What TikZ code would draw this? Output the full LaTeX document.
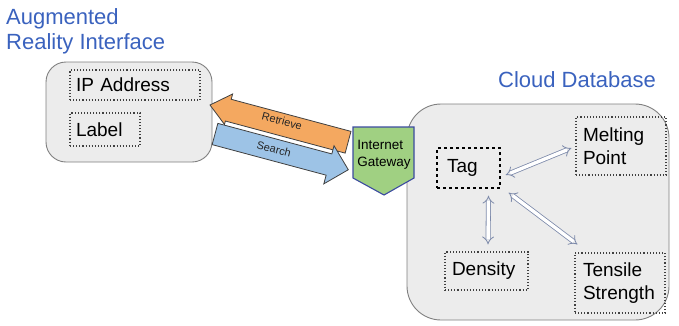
\documentclass[tikz,border=0pt]{standalone}
\usepackage{fontspec}
\setmainfont{Liberation Sans}
\usetikzlibrary{arrows.meta}
\definecolor{ttl}{RGB}{58,98,190}
\definecolor{boxfill}{RGB}{236,236,236}
\definecolor{boxline}{RGB}{128,128,128}
\definecolor{orangefill}{RGB}{244,168,96}
\definecolor{bluefill}{RGB}{157,195,230}
\definecolor{gwfill}{RGB}{160,208,130}
\definecolor{gwline}{RGB}{60,75,160}
\definecolor{dblline}{RGB}{125,138,170}
\definecolor{outl}{RGB}{64,64,64}
\newcommand\myfs[2]{\fontsize{#1}{#2}\selectfont}
\begin{document}
\begin{tikzpicture}[x=1pt,y=-1pt,
  bigbox/.style={draw=boxline, fill=boxfill, line width=0.9pt, inner sep=0pt},
  dotbox/.style={draw=outl, dotted, line width=1.1pt, inner ysep=0pt, align=left, font=\myfs{19}{23}},
  dashbox/.style={draw=black, dashed, line width=1.3pt, inner ysep=0pt, align=left, font=\myfs{19}{23}},
  titletext/.style={text=ttl, inner sep=0pt, align=left},
  arrowbody/.style={draw=outl, line width=0.8pt, line join=miter},
  dbl/.style={draw=dblline, double=white, double distance=3.4pt, line width=0.8pt, {Implies}-{Implies}},
  arrowlabel/.style={inner sep=0pt, font=\myfs{11}{13}, text=black!85, rotate=-15}
]
\useasboundingbox (0,0) rectangle (679,325);

% titles
\node[titletext, anchor=north west, font=\myfs{22}{25}] (arititle) at (6,8) {Augmented\\Reality Interface};
\node[titletext, anchor=base, font=\myfs{22}{25}] (cdbtitle) at (577,87) {Cloud Database};

% big boxes
\node[bigbox, rounded corners=20pt, minimum width=166pt, minimum height=100pt] (ari) at (129,112) {};
\node[bigbox, rounded corners=34pt, minimum width=262pt, minimum height=216pt] (cdb) at (538,212) {};

% left inner boxes
\node[dotbox, inner xsep=6pt, text width=118pt, minimum height=30pt] (ip) at (135,85) {IP Address};
\node[dotbox, inner xsep=6pt, text width=58pt, minimum height=33pt] (lbl) at (105,129.5) {Label};

% Retrieve arrow (orange, pointing left)
\begin{scope}[shift={(210,105)}, rotate=-15]
  \path[arrowbody, fill=orangefill] (0,0) -- (19,-16.5) -- (19,-11) -- (143,-11) -- (143,11.5) -- (19,11.5) -- (19,15) -- cycle;
\end{scope}
% Search arrow (blue, pointing right)
\begin{scope}[shift={(215,134)}, rotate=-15]
  \path[arrowbody, fill=bluefill] (0,-11) -- (118,-11) -- (118,-19.5) -- (138,0) -- (118,20) -- (118,11) -- (0,11) -- cycle;
\end{scope}
\node[arrowlabel] (retrieve) at (282,121) {Retrieve};
\node[arrowlabel] (search) at (274,149) {Search};

% Internet gateway
\path[draw=gwline, fill=gwfill, line width=1.1pt, line join=miter] (353,127) -- (414,127) -- (414,178) -- (384,195) -- (353,178) -- cycle;
\node[inner sep=0pt, align=left, font=\myfs{13.5}{17}] (gw) at (384,155) {Internet\\Gateway};

% right inner boxes
\node[dashbox, inner xsep=10pt, text width=43pt, minimum height=40pt] (tag) at (468.5,168) {Tag};
\node[dotbox, inner xsep=7pt, text width=76pt, minimum height=58pt] (melt) at (621,146) {Melting\\Point};
\node[dotbox, inner xsep=7pt, text width=69pt, minimum height=38pt] (dens) at (486.5,271) {Density};
\node[dotbox, inner xsep=8pt, text width=74pt, minimum height=60pt] (tens) at (620,283) {Tensile\\Strength};

% relations
\draw[dbl] ([shift={(5,7)}]tag.east) -- ([shift={(-4,2)}]melt.west);
\draw[dbl] ([shift={(20,7)}]tag.south) -- ([shift={(1.5,-7)}]dens.north);
\draw[dbl] ([shift={(8,4)}]tag.south east) -- ([shift={(3,-8)}]tens.north west);
\end{tikzpicture}
\end{document}
